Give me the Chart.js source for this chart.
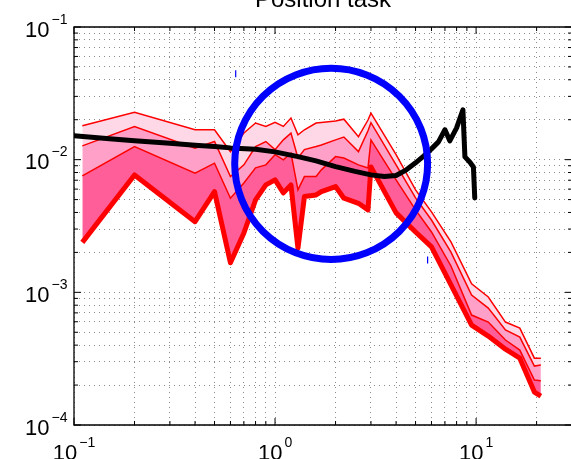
<!DOCTYPE html>
<html>
<head>
<meta charset="utf-8">
<script src="https://cdn.jsdelivr.net/npm/chart.js@4.4.0/dist/chart.umd.min.js"></script>
<style>
  html, body { margin: 0; padding: 0; background: #fff; overflow: hidden; }
  canvas { display: block; }
</style>
</head>
<body>
<canvas id="myChart" width="600" height="459"></canvas>
<script>
// frequency axis of the red percentile bands
const freq = [0.11, 0.2, 0.4, 0.5, 0.6, 0.7, 0.8, 0.9, 1.0, 1.1, 1.2, 1.3, 1.4, 1.6, 1.7,
  2.0, 2.2, 2.6, 2.9, 3.0, 4.0, 5.0, 6.0, 7.5, 9.5, 11.5, 14, 16.5, 19.5, 21];

// band edges, top to bottom
const band1 = [0.0180, 0.0228, 0.0168, 0.0168, 0.0115, 0.0159, 0.0189, 0.0178, 0.0191, 0.0178,
  0.0206, 0.0154, 0.0168, 0.0189, 0.0191, 0.0196, 0.0202, 0.0149, 0.0199, 0.0224,
  0.0109, 0.00592, 0.00404, 0.0024, 0.00116, 0.000922, 0.000597, 0.000538, 0.000319, 0.000319];
const band2 = [0.0127, 0.0178, 0.0122, 0.0137, 0.00746, 0.00914, 0.01256, 0.0137, 0.0119, 0.0141,
  0.01585, 0.0103, 0.0119, 0.01256, 0.0129, 0.0141, 0.0148, 0.0115, 0.0165, 0.0190,
  0.00914, 0.00515, 0.00351, 0.00201, 0.000954, 0.000761, 0.00052, 0.00046, 0.000278, 0.000283];
const band3 = [0.00755, 0.01256, 0.00791, 0.00941, 0.00512, 0.00668, 0.00867, 0.00914, 0.0109, 0.00997,
  0.0112, 0.00592, 0.00746, 0.00746, 0.00838, 0.01055, 0.0103, 0.00914, 0.00867, 0.0141,
  0.00704, 0.00418, 0.00285, 0.00158, 0.000674, 0.000597, 0.000437, 0.000367, 0.000218, 0.000216];
const band4 = [0.00238, 0.00767, 0.00341, 0.00574, 0.00167, 0.0028, 0.00497, 0.00645, 0.00704, 0.00562,
  0.00645, 0.00215, 0.00527, 0.00542, 0.00574, 0.00627, 0.00512, 0.00469, 0.00418, 0.00882,
  0.00397, 0.00285, 0.0022, 0.00114, 0.000566, 0.000468, 0.000373, 0.000319, 0.000177, 0.000165];

// black curve
const curveFreq = [0.1, 0.15, 0.2, 0.3, 0.4, 0.5, 0.6, 0.8, 1.0, 1.3, 1.6, 2.0, 2.5, 3.0, 3.5,
  4.0, 4.5, 5.0, 5.5, 6.0, 6.5, 7.0, 7.4, 8.0, 8.6, 8.8, 9.3, 9.7, 9.85];
const curveVal = [0.01512, 0.01435, 0.01386, 0.01328, 0.01282, 0.01256, 0.01227, 0.01196, 0.01145, 0.01055,
  0.00979, 0.00887, 0.00816, 0.00768, 0.00748, 0.0076, 0.00838, 0.00946, 0.01068, 0.01206,
  0.01362, 0.0168, 0.01386, 0.01738, 0.02376, 0.0105, 0.00962, 0.00882, 0.00515];

// axis limits and labelled decades
const xLimits = [0.1, 30];
const yLimits = [1e-4, 1e-1];
const xDecades = [0.1, 1, 10];
const yDecades = [1e-4, 1e-3, 1e-2, 1e-1];

// circled region (bounding box in data units)
const ringX = [0.63, 5.74];
const ringY = [0.00177, 0.0489];

const titleText = 'Position task';

const pts = (xs, ys) => xs.map((x, i) => ({ x: x, y: ys[i] }));

function logTicks(min, max) {
  const out = [];
  for (let e = Math.floor(Math.log10(min)); e <= Math.ceil(Math.log10(max)); e++) {
    for (let m = 1; m < 10; m++) {
      const v = m * Math.pow(10, e);
      if (v >= min * 0.999 && v <= max * 1.001) out.push({ value: v, major: m === 1 });
    }
  }
  return out;
}

const mainFont = '22px "Liberation Sans", Arial, sans-serif';
const supFont = '14px "Liberation Sans", Arial, sans-serif';

function drawPower(ctx, v, x, y, align) {
  const e = Math.round(Math.log10(v));
  const sup = e < 0 ? '\u2212' + (-e) : String(e);
  ctx.font = mainFont;
  const w1 = ctx.measureText('10').width;
  ctx.font = supFont;
  const w2 = ctx.measureText(sup).width;
  const total = w1 + 2 + w2;
  const left = align === 'center' ? x - total / 2 : x - total;
  ctx.textAlign = 'left';
  ctx.textBaseline = 'alphabetic';
  ctx.font = mainFont;
  ctx.fillText('10', left, y);
  ctx.font = supFont;
  ctx.fillText(sup, left + w1 + 2, y - 13);
}

// frame, inward ticks, power-of-ten labels and title
const axesDecor = {
  id: 'axesDecor',
  afterDraw(chart) {
    const { ctx, chartArea: a, scales } = chart;
    const xs = scales.x, ys = scales.y;
    ctx.save();
    ctx.strokeStyle = '#000';
    ctx.lineWidth = 1.3;
    ctx.beginPath();
    ctx.moveTo(a.right, a.top); ctx.lineTo(a.left, a.top);
    ctx.lineTo(a.left, a.bottom); ctx.lineTo(a.right, a.bottom);
    ctx.lineTo(a.right, a.top);
    ctx.stroke();

    ctx.lineWidth = 1;
    ctx.beginPath();
    xs.ticks.forEach(t => {
      const px = xs.getPixelForValue(t.value);
      const len = t.major ? 7 : 4;
      ctx.moveTo(px, a.bottom); ctx.lineTo(px, a.bottom - len);
      ctx.moveTo(px, a.top); ctx.lineTo(px, a.top + len);
    });
    ys.ticks.forEach(t => {
      const py = ys.getPixelForValue(t.value);
      const len = t.major ? 7 : 4;
      ctx.moveTo(a.left, py); ctx.lineTo(a.left + len, py);
      ctx.moveTo(a.right, py); ctx.lineTo(a.right - len, py);
    });
    ctx.stroke();

    ctx.fillStyle = '#000';
    xDecades.forEach(v => drawPower(ctx, v, xs.getPixelForValue(v), a.bottom + 35, 'center'));
    yDecades.forEach(v => drawPower(ctx, v, a.left - 6.5, ys.getPixelForValue(v) + 9.5, 'right'));

    ctx.font = '24px "Liberation Sans", Arial, sans-serif';
    ctx.textAlign = 'center';
    ctx.fillText(titleText, (a.left + a.right) / 2, 7);
    ctx.restore();
  }
};

// blue ring drawn over the data
const ring = {
  id: 'ring',
  afterDatasetsDraw(chart) {
    const { ctx, scales } = chart;
    const x1 = scales.x.getPixelForValue(ringX[0]);
    const x2 = scales.x.getPixelForValue(ringX[1]);
    const y1 = scales.y.getPixelForValue(ringY[1]);
    const y2 = scales.y.getPixelForValue(ringY[0]);
    ctx.save();
    ctx.strokeStyle = '#0000ff';
    ctx.lineWidth = 7;
    ctx.beginPath();
    ctx.ellipse((x1 + x2) / 2, (y1 + y2) / 2, (x2 - x1) / 2, (y2 - y1) / 2, 0, 0, Math.PI * 2);
    ctx.stroke();
    ctx.lineWidth = 1.2;
    ctx.beginPath();
    ctx.moveTo(x1 + 1, y1 + 2); ctx.lineTo(x1 + 1, y1 + 9);
    ctx.moveTo(x2, y2 - 3); ctx.lineTo(x2, y2 + 4);
    ctx.stroke();
    ctx.restore();
  }
};

const logAxis = (limits, horizontal) => ({
  type: 'logarithmic',
  min: limits[0],
  max: limits[1],
  afterBuildTicks: s => { s.ticks = logTicks(limits[0], limits[1]); },
  afterFit: s => { if (horizontal) s.height = 0; else s.width = 0; },
  ticks: { display: false, autoSkip: false },
  grid: { color: '#8c8c8c', lineWidth: 1, drawTicks: false, borderDash: [1, 4] },
  border: { display: false, dash: [1, 4] }
});

const ctx = document.getElementById('myChart');

new Chart(ctx, {
  type: 'line',
  data: {
    datasets: [
      { data: pts(curveFreq, curveVal), borderColor: '#000', borderWidth: 5,
        borderJoinStyle: 'round', borderCapStyle: 'round', fill: false },
      { data: pts(freq, band1), borderColor: '#ff0000', borderWidth: 1.5,
        backgroundColor: '#ffd8e8', fill: '+1' },
      { data: pts(freq, band2), borderColor: '#ff0000', borderWidth: 1.5,
        backgroundColor: '#ffa0c8', fill: '+1' },
      { data: pts(freq, band3), borderColor: '#ff0000', borderWidth: 1.5,
        backgroundColor: '#ff5e98', fill: '+1' },
      { data: pts(freq, band4), borderColor: '#ff0000', borderWidth: 5,
        borderJoinStyle: 'round', fill: false }
    ]
  },
  options: {
    responsive: false,
    animation: false,
    layout: { padding: { left: 74, top: 27, right: 28, bottom: 34 } },
    elements: { point: { radius: 0 }, line: { tension: 0 } },
    plugins: {
      legend: { display: false },
      tooltip: { enabled: false },
      title: { display: false },
      filler: { drawTime: 'beforeDatasetsDraw' }
    },
    scales: {
      x: logAxis(xLimits, true),
      y: logAxis(yLimits, false)
    }
  },
  plugins: [ring, axesDecor]
});
</script>
</body>
</html>
